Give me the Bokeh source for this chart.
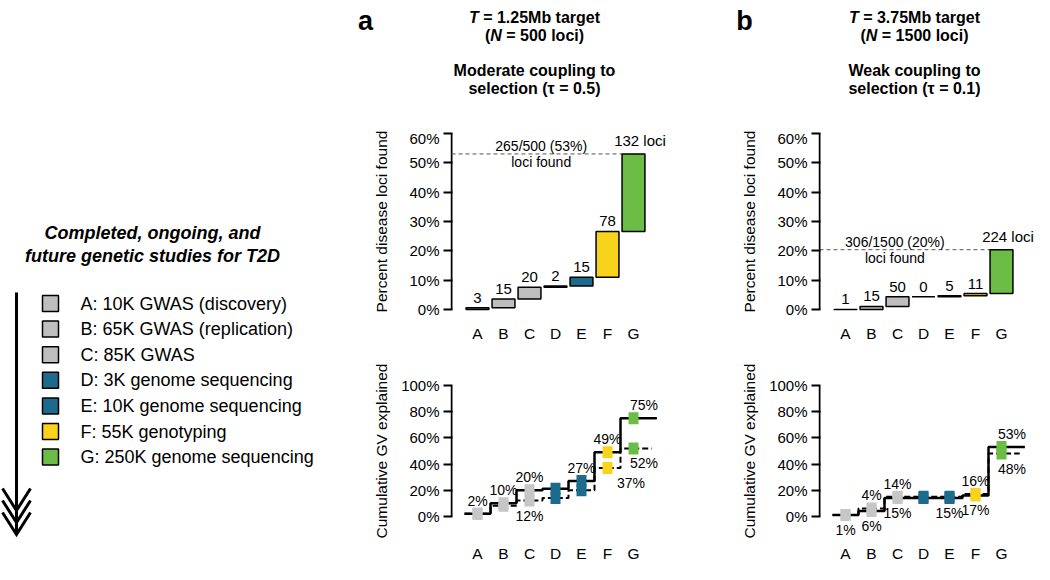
import numpy as np
from bokeh.plotting import figure
from bokeh.layouts import row, column
from bokeh.models import Range1d, FixedTicker, PrintfTickFormatter
from bokeh.embed import file_html
from bokeh.resources import INLINE
from bokeh.core.properties import value

FONT = "Liberation Sans"
NBSP = "\u00a0"

# ---------------- data ----------------
categories = ["A", "B", "C", "D", "E", "F", "G"]
study_names = ["A: 10K GWAS (discovery)", "B: 65K GWAS (replication)", "C: 85K GWAS",
               "D: 3K genome sequencing", "E: 10K genome sequencing",
               "F: 55K genotyping", "G: 250K genome sequencing"]
study_colors = ["#bebebe", "#bebebe", "#bebebe", "#1c6b8c", "#1c6b8c", "#f7d31c", "#6cbd45"]
marker_colors = ["#c6c6c6", "#c6c6c6", "#c6c6c6", "#1c6b8c", "#1c6b8c", "#f7d31c", "#6cbd45"]

# panel a (T = 1.25Mb, N = 500)
loci_a = [3, 15, 20, 2, 15, 78, 132]
total_a = 500
gv_solid_a = [2, 10, 20, 21, 27, 49, 75]
gv_dashed_a = [2, 8, 12, 14, 20, 37, 52]
show_above_a = [1, 1, 1, 0, 1, 1, 1]
show_below_a = [0, 0, 1, 0, 0, 1, 1]

# panel b (T = 3.75Mb, N = 1500)
loci_b = [1, 15, 50, 0, 5, 11, 224]
total_b = 1500
gv_solid_b = [1, 4, 14, 14, 14, 16, 53]
gv_dashed_b = [1, 6, 15, 15, 15, 17, 48]
show_above_b = [0, 1, 1, 0, 0, 1, 1]
show_below_b = [1, 1, 1, 0, 1, 1, 1]

loci_ticks = [0, 10, 20, 30, 40, 50, 60]
gv_ticks = [0, 20, 40, 60, 80, 100]

legend_title = ["Completed, ongoing, and", "future genetic studies for T2D"]

# ---------------- layout constants ----------------
UNIT = 26.0
LEFT = 95
TITLE_H = 129
TOP_H, TOP_BB = 215, 26
TOP_YLO, TOP_YHI = -1.326, 61.326
BOT_H, BOT_BT, BOT_BB = 220, 22, 22
BOT_YLO, BOT_YHI = -14.706, 114.706
LEG_W, COLA_W, COLB_W = 355, 368, 311
TOTAL_H = TITLE_H + TOP_H + BOT_H

BOLD_W = {' ': 278, '\u00a0': 278, '(': 333, ')': 333, '=': 584, '.': 278, '/': 278, '%': 889,
          'T': 611, 'N': 722, 'M': 833, 'a': 556, 'b': 611, 'c': 556, 'e': 556,
          'g': 611, 'i': 278, 'l': 278, 'o': 611, 'r': 389, 't': 333}


def wbold(s, size):
    return sum(556 if ch.isdigit() else BOLD_W.get(ch, 600) for ch in s) * size / 1000.0


def txt(p, x, y, t, size, style="normal", align="center", baseline="middle", **kw):
    p.text(x=x, y=y, text=t, text_font=value(FONT), text_font_size=size,
           text_font_style=style, text_align=align, text_baseline=baseline,
           text_color="black", **kw)


def blank_fig(w, h):
    p = figure(width=w, height=h, x_range=Range1d(0, w), y_range=Range1d(h, 0),
               x_axis_location=None, y_axis_location=None, output_backend="svg",
               toolbar_location=None, min_border=0)
    p.frame_align = False
    p.grid.visible = False
    p.outline_line_color = None
    return p


def title_fig(width, letter, letter_x, cx, t_val, n_val, line3, line4):
    p = blank_fig(width, TITLE_H)
    fs = 16
    txt(p, [letter_x], [20], [letter], "27px", "bold", "center", "alphabetic")
    rest1 = NBSP + "= %sMb target" % t_val
    wT = wbold("T", fs)
    s = cx - (wT + wbold(rest1, fs)) / 2
    txt(p, [s], [17], ["T"], "16px", "bold italic", "left", "alphabetic")
    txt(p, [s + wT], [17], [rest1], "16px", "bold", "left", "alphabetic")
    rest2 = NBSP + "= %s loci)" % n_val
    wP, wN = wbold("(", fs), wbold("N", fs)
    s = cx - (wP + wN + wbold(rest2, fs)) / 2
    txt(p, [s], [35], ["("], "16px", "bold", "left", "alphabetic")
    txt(p, [s + wP], [35], ["N"], "16px", "bold italic", "left", "alphabetic")
    txt(p, [s + wP + wN], [35], [rest2], "16px", "bold", "left", "alphabetic")
    txt(p, [cx], [70], [line3], "16px", "bold", "center", "alphabetic")
    txt(p, [cx], [88], [line4], "16px", "bold", "center", "alphabetic")
    return p


def style_axes(p, ticks, xstandoff, ystandoff):
    p.frame_align = False
    p.grid.visible = False
    p.outline_line_color = None
    yax = p.yaxis[0]
    yax.ticker = FixedTicker(ticks=ticks)
    yax.formatter = PrintfTickFormatter(format="%d%%")
    yax.axis_line_color = None
    yax.major_tick_out = 7
    yax.major_tick_in = 2
    yax.major_tick_line_width = 2
    yax.minor_tick_line_color = None
    yax.major_label_standoff = 4
    yax.major_label_text_font = FONT
    yax.major_label_text_font_size = "15px"
    yax.major_label_text_color = "black"
    yax.axis_label_text_font = FONT
    yax.axis_label_text_font_size = "15.5px"
    yax.axis_label_text_font_style = "normal"
    yax.axis_label_text_color = "black"
    yax.axis_label_standoff = ystandoff
    xax = p.xaxis[0]
    xax.ticker = FixedTicker(ticks=list(range(1, len(categories) + 1)))
    xax.major_label_overrides = {i + 1: c for i, c in enumerate(categories)}
    xax.axis_line_color = None
    xax.major_tick_line_color = None
    xax.minor_tick_line_color = None
    xax.major_label_standoff = xstandoff
    xax.major_label_text_font = FONT
    xax.major_label_text_font_size = "15.5px"
    xax.major_label_text_color = "black"


def top_chart(width, loci, total, note_x):
    xs = np.arange(1, len(loci) + 1, dtype=float)
    cum = np.cumsum(loci)
    tops = cum / total * 100.0
    bots = np.concatenate([[0.0], tops[:-1]])
    x0 = -1.0 / UNIT
    p = figure(width=width, height=TOP_H, x_range=Range1d(x0, x0 + (width - LEFT) / UNIT),
               y_range=Range1d(TOP_YLO, TOP_YHI), output_backend="svg", toolbar_location=None,
               min_border_left=LEFT, min_border_right=0, min_border_top=0, min_border_bottom=TOP_BB,
               y_axis_label="Percent disease loci found")
    style_axes(p, loci_ticks, 5, 16)
    p.segment(x0=[0], y0=[loci_ticks[0]], x1=[0], y1=[loci_ticks[-1]], line_width=2, line_color="black")
    p.segment(x0=[0], y0=[tops[-1]], x1=[xs[-1] - 0.44], y1=[tops[-1]], line_dash="4 3",
              line_width=1, line_color="#555555")
    p.quad(left=xs - 0.44, right=xs + 0.44, bottom=bots, top=tops, fill_color=study_colors,
           line_color="black", line_width=1.5)
    txt(p, list(xs[:-1]), list(tops[:-1]), [str(v) for v in loci[:-1]], "15px", y_offset=-10)
    txt(p, [xs[-1] + 0.25], [tops[-1]], ["%d loci" % loci[-1]], "15px", y_offset=-13)
    txt(p, [note_x], [tops[-1]], ["%d/%d (%d%%)" % (cum[-1], total, round(tops[-1]))], "14px", y_offset=-8)
    txt(p, [note_x], [tops[-1]], ["loci found"], "14px", y_offset=8)
    return p


def bottom_chart(width, solid, dashed, show_above, show_below, above_dx, below_dx, below_dy):
    xs = np.arange(1, len(solid) + 1, dtype=float)
    x0 = -1.0 / UNIT
    p = figure(width=width, height=BOT_H, x_range=Range1d(x0, x0 + (width - LEFT) / UNIT),
               y_range=Range1d(BOT_YLO, BOT_YHI), output_backend="svg", toolbar_location=None,
               min_border_left=LEFT, min_border_right=0, min_border_top=BOT_BT, min_border_bottom=BOT_BB,
               y_axis_label="Cumulative GV explained")
    style_axes(p, gv_ticks, 3, 8)
    p.segment(x0=[0], y0=[gv_ticks[0]], x1=[0], y1=[gv_ticks[-1]], line_width=2, line_color="black")

    def path(vals, ext):
        px = np.repeat(xs, 2) + np.tile([-0.5, 0.5], len(xs))
        px[-1] = xs[-1] + ext
        return px, np.repeat(np.asarray(vals, dtype=float), 2)

    dpx, dpy = path(dashed, 0.7)
    spx, spy = path(solid, 0.9)
    p.line(dpx, dpy, line_dash="6 3", line_width=2, line_color="black")
    p.line(spx, spy, line_width=2.5, line_color="black")
    p.rect(x=xs, y=dashed, width=10, height=12, width_units="screen", height_units="screen",
           fill_color=marker_colors, line_color=None)
    p.rect(x=xs, y=solid, width=10, height=12, width_units="screen", height_units="screen",
           fill_color=marker_colors, line_color=None)
    hi = np.maximum(solid, dashed)
    lo = np.minimum(solid, dashed)
    for i in range(len(xs)):
        if show_above[i]:
            txt(p, [xs[i] + above_dx[i]], [hi[i]], ["%d%%" % solid[i]], "14px", y_offset=-13)
        if show_below[i]:
            txt(p, [xs[i] + below_dx[i]], [lo[i]], ["%d%%" % dashed[i]], "14px", y_offset=below_dy[i])
    return p


# ---------------- legend column ----------------
leg = blank_fig(LEG_W, TOTAL_H)
txt(leg, [152, 152], [232, 255], legend_title, "18px", "bold italic")
rows_y = [303 + 25.6 * i for i in range(len(study_names))]
leg.rect(x=[50] * len(rows_y), y=rows_y, width=16, height=16, fill_color=study_colors,
         line_color="black", line_width=1.5)
txt(leg, [80] * len(rows_y), rows_y, study_names, "18px", align="left")
leg.segment(x0=[16], y0=[292], x1=[16], y1=[534], line_width=3, line_color="black")
tips = [510, 522, 534]
leg.multi_line(xs=[[2, 16, 30] for _ in tips], ys=[[t - 22, t, t - 22] for t in tips],
               line_width=3, line_color="black", line_join="miter")

# ---------------- panels ----------------
ta = title_fig(COLA_W, "a", 10, 179, "1.25", "500", "Moderate coupling to", "selection (\u03c4 = 0.5)")
pa1 = top_chart(COLA_W, loci_a, total_a, 3.45)
pa2 = bottom_chart(COLA_W, gv_solid_a, gv_dashed_a, show_above_a, show_below_a,
                   [0, 0, 0, 0, 0, 0, 0.4], [0, 0, 0, 0, 0, 0.9, 0.4], [15, 15, 15, 15, 15, 15, 15])

tb = title_fig(COLB_W, "b", 21, 191, "3.75", "1500", "Weak coupling to", "selection (\u03c4 = 0.1)")
pb1 = top_chart(COLB_W, loci_b, total_b, 2.9)
pb2 = bottom_chart(COLB_W, gv_solid_b, gv_dashed_b, show_above_b, show_below_b,
                   [0, 0, 0, 0, 0, 0, 0.4], [0, 0, 0, 0, 0, 0, 0.4], [15, 15, 15, 15, 15, 15, 15])

layout = row(leg, column(ta, pa1, pa2), column(tb, pb1, pb2))

with open("out.html", "w") as f:
    f.write(file_html(layout, INLINE))
